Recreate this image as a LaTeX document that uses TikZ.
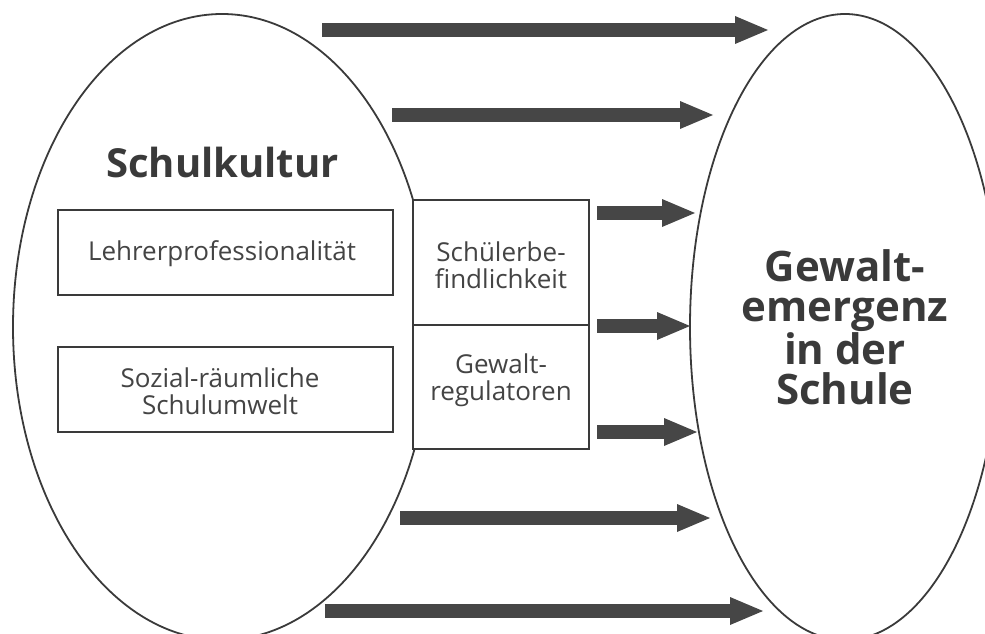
\documentclass[tikz,border=0pt]{standalone}
\usepackage{fontspec}
\setmainfont{Open Sans}
\usetikzlibrary{arrows.meta,shapes.geometric}
\definecolor{ink}{HTML}{3A3A3A}
\definecolor{softink}{HTML}{444444}
\definecolor{fatgray}{HTML}{464646}
\begin{document}
\begin{tikzpicture}[x=1pt,y=-1pt,
  outline/.style={draw=ink,line width=1.8pt},
  fat/.style={draw=fatgray,line width=13.3pt,-{Triangle[length=33pt,width=28pt,line width=0pt]}},
  big/.style={font=\bfseries\fontsize{42}{40}\selectfont,text=ink},
  small/.style={font=\fontsize{26}{27}\selectfont,text=softink,align=center,inner sep=0pt},
  boxstyle/.style={outline,rectangle,fill=white,inner sep=0pt}
]
\useasboundingbox (0,0) rectangle (985,634);
% ellipses
\node[ellipse,outline,minimum width=418pt,minimum height=626pt,inner sep=0pt] (sk) at (222,327) {};
\node[ellipse,outline,minimum width=310pt,minimum height=626pt,inner sep=0pt,big,align=center] (ge) at (845,327) {Gewalt-\\emergenz\\in der\\Schule};
% title
\node[big,font=\bfseries\fontsize{40}{40}\selectfont,anchor=base,inner sep=0pt] (skt) at (222.5,177) {Schulkultur};
% left boxes
\node[boxstyle,minimum width=335pt,minimum height=85pt] (lp) at (225.5,252.5) {};
\node[boxstyle,minimum width=335pt,minimum height=85pt] (sr) at (225.5,389.5) {};
\node[small,anchor=base] (lpt) at (222,260) {Lehrerprofessionalität};
\node[small,anchor=base] (srt) at (220,414) {Sozial-räumliche\\Schulumwelt};
% middle boxes
\node[boxstyle,minimum width=176pt,minimum height=125pt] (sb) at (501,262.5) {};
\node[boxstyle,minimum width=176pt,minimum height=124pt] (gr) at (501,387) {};
\node[small,anchor=base] (sbt) at (501,288) {Schülerbe-\\findlichkeit};
\node[small,anchor=base] (grt) at (501,400) {Gewalt-\\regulatoren};
% arrows
\coordinate (a1s) at (322,30);  \coordinate (a1e) at (768,30);
\coordinate (a2s) at (392,115); \coordinate (a2e) at (713,115);
\coordinate (a3s) at (597,213); \coordinate (a3e) at (695,213);
\coordinate (a4s) at (597,326); \coordinate (a4e) at (690,326);
\coordinate (a5s) at (597,432); \coordinate (a5e) at (697,432);
\coordinate (a6s) at (400,518); \coordinate (a6e) at (710,518);
\coordinate (a7s) at (325,611); \coordinate (a7e) at (763,611);
\foreach \i in {1,...,7} {\draw[fat] (a\i s) -- (a\i e);}
\end{tikzpicture}
\end{document}
